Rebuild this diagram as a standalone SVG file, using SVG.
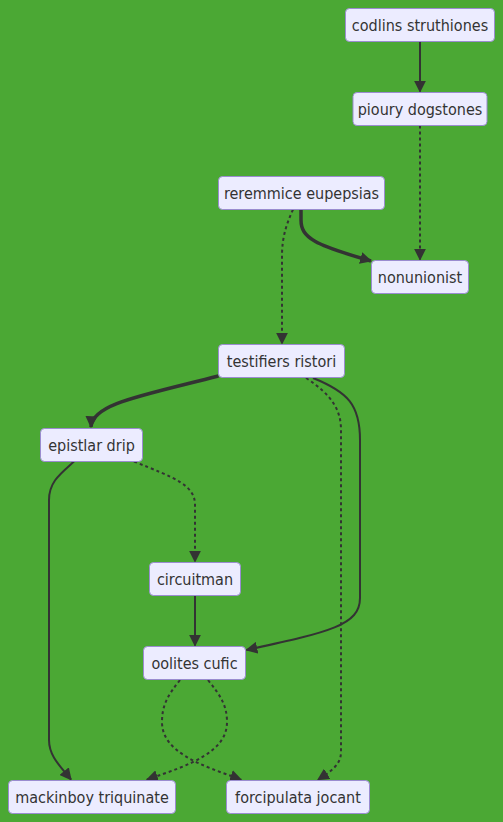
<svg xmlns="http://www.w3.org/2000/svg" width="503" height="822" viewBox="0 0 503 822">
<style>
.node rect{fill:#ECECFF;stroke:#9A8CD0;stroke-width:1px;}
.node text{font-family:"DejaVu Sans Condensed","Liberation Sans",Arial,sans-serif;font-size:16px;fill:#333333;text-anchor:middle;dominant-baseline:central;}
.edge{fill:none;stroke:#333333;stroke-width:2px;}
.thick{stroke-width:3.5px;}
.dotted{stroke-dasharray:3;}
</style>
<defs>
<marker id="arrow" viewBox="0 0 10 10" refX="9" refY="5" markerUnits="userSpaceOnUse" markerWidth="12" markerHeight="12" orient="auto">
<path d="M0,0 L10,5 L0,10 z" fill="#333333"/>
</marker>
</defs>
<rect width="503" height="822" fill="#4BA834"/>
<g id="edges">
<path class="edge" d="M420,41.5 L420,91.5" marker-end="url(#arrow)"/>
<path class="edge dotted" d="M420,125.5 L420,259.5" marker-end="url(#arrow)"/>
<path class="edge thick" d="M301,209.5 L301,220 C301,238 315,245 371,261" marker-end="url(#arrow)"/>
<path class="edge dotted" d="M293,209.5 C286,225 282,238 282,256 L282,343.5" marker-end="url(#arrow)"/>
<path class="edge thick" d="M218.5,376 C140,396 92,404 91,427" marker-end="url(#arrow)"/>
<path class="edge" d="M313,378 C348,392 360,405 360,440 L360,598 C360,625 330,632 246.5,650" marker-end="url(#arrow)"/>
<path class="edge dotted" d="M306,378 C332,395 341,410 341,430 L341,752 C341,765 330,772 318,779.5" marker-end="url(#arrow)"/>
<path class="edge" d="M74,461.5 C60,474 49,482 49,500 L49,740 C49,756 60,766 71,779.5" marker-end="url(#arrow)"/>
<path class="edge dotted" d="M134,461.5 C175,478 195,485 195,505 L195,561.5" marker-end="url(#arrow)"/>
<path class="edge" d="M195,595.5 L195,645.5" marker-end="url(#arrow)"/>
<path class="edge dotted" d="M208,680 C220,695 227,705 227,722 C227,752 190,765 147,779.5" marker-end="url(#arrow)"/>
<path class="edge dotted" d="M180,680 C168,695 162,705 162,722 C162,752 200,765 241,779.5" marker-end="url(#arrow)"/>
</g>
<g id="n-codlins" class="node"><rect x="345.5" y="8.5" width="149" height="33" rx="4"/><text x="420" y="25">codlins struthiones</text></g>
<g id="n-pioury" class="node"><rect x="353" y="92.5" width="134" height="33" rx="4"/><text x="420" y="109">pioury dogstones</text></g>
<g id="n-reremmice" class="node"><rect x="218.5" y="176.5" width="166" height="33" rx="4"/><text x="301.5" y="193">reremmice eupepsias</text></g>
<g id="n-nonunionist" class="node"><rect x="371.5" y="260.5" width="97" height="33" rx="4"/><text x="420" y="277">nonunionist</text></g>
<g id="n-testifiers" class="node"><rect x="218.5" y="344.5" width="126" height="33" rx="4"/><text x="281.5" y="361">testifiers ristori</text></g>
<g id="n-epistlar" class="node"><rect x="40.5" y="428.5" width="102" height="33" rx="4"/><text x="91.5" y="445">epistlar drip</text></g>
<g id="n-circuitman" class="node"><rect x="149.5" y="562.5" width="91" height="33" rx="4"/><text x="195" y="579">circuitman</text></g>
<g id="n-oolites" class="node"><rect x="143.5" y="646.5" width="102" height="33" rx="4"/><text x="194.5" y="663">oolites cufic</text></g>
<g id="n-mackinboy" class="node"><rect x="8.5" y="780.5" width="167" height="33" rx="4"/><text x="92" y="797">mackinboy triquinate</text></g>
<g id="n-forcipulata" class="node"><rect x="226.5" y="780.5" width="143" height="33" rx="4"/><text x="298" y="797">forcipulata jocant</text></g>
</svg>
